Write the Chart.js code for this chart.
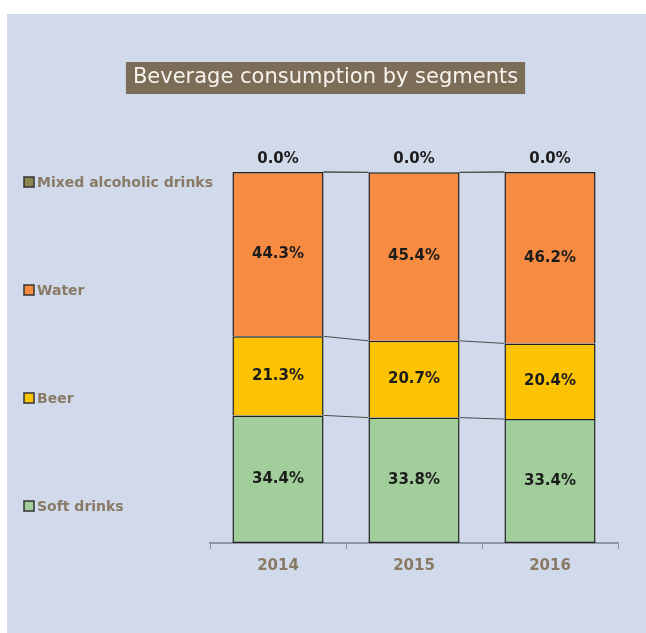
<!DOCTYPE html>
<html>
<head>
<meta charset="utf-8">
<script src="https://cdn.jsdelivr.net/npm/chart.js@4.4.1/dist/chart.umd.min.js"></script>
<style>
  html, body { margin:0; padding:0; background:#fff; }
  #panel { position:absolute; left:7px; top:14px; width:639px; height:619px; background:#d1daeb; }
  #chart { display:block; }
</style>
</head>
<body>
<div id="panel"><canvas id="chart" width="639" height="619"></canvas></div>
<script>
// beverage segments, share of consumption (%)
const years = ["2014", "2015", "2016"];
const softDrinks = [34.4, 33.8, 33.4];
const beer = [21.3, 20.7, 20.4];
const water = [44.3, 45.4, 46.2];
const mixedAlcoholic = [0.0, 0.0, 0.0];
const chartTitle = "Beverage consumption by segments";

const FONT = "'DejaVu Sans', Verdana, sans-serif";
const TEXT_BROWN = "#887a65";

// Excel-style series lines joining the segment tops between bars
const seriesLines = {
  id: "seriesLines",
  beforeDatasetsDraw(chart) {
    const ctx = chart.ctx;
    ctx.save();
    ctx.strokeStyle = "#4a4a4a";
    ctx.lineWidth = 1;
    chart.data.datasets.forEach((ds, i) => {
      const bars = chart.getDatasetMeta(i).data;
      for (let j = 0; j < bars.length - 1; j++) {
        const a = bars[j], b = bars[j + 1];
        ctx.beginPath();
        ctx.moveTo(a.x + a.width / 2, a.y);
        ctx.lineTo(b.x - b.width / 2, b.y);
        ctx.stroke();
      }
    });
    ctx.restore();
  }
};

const valueLabels = {
  id: "valueLabels",
  afterDatasetsDraw(chart) {
    const ctx = chart.ctx;
    ctx.save();
    ctx.font = "bold 15px " + FONT;
    ctx.fillStyle = "#1c1c1c";
    ctx.textAlign = "center";
    ctx.textBaseline = "middle";
    chart.data.datasets.forEach((ds, i) => {
      chart.getDatasetMeta(i).data.forEach((bar, j) => {
        const v = ds.data[j];
        const y = v === 0 ? bar.y - 13 : (bar.y + bar.base) / 2;
        ctx.fillText(v.toFixed(1) + "%", bar.x, y);
      });
    });
    ctx.restore();
  }
};

// title box + left legend spread down the plot
const decorations = {
  id: "decorations",
  afterDraw(chart) {
    const ctx = chart.ctx;
    ctx.save();
    ctx.font = "21px " + FONT;
    const w = ctx.measureText(chartTitle).width + 14;
    const cx = chart.width / 2 - 1;
    ctx.fillStyle = "#7c6d58";
    ctx.fillRect(cx - w / 2, 48, w, 32);
    ctx.fillStyle = "#f7f3ee";
    ctx.textAlign = "center";
    ctx.textBaseline = "middle";
    ctx.fillText(chartTitle, cx, 64);

    const items = chart.data.datasets.slice().reverse();
    ctx.font = "bold 14px " + FONT;
    ctx.textAlign = "left";
    items.forEach((ds, i) => {
      const y = 168 + i * 108;
      ctx.fillStyle = ds.backgroundColor;
      ctx.fillRect(17, y - 5, 10, 10);
      ctx.strokeStyle = "#333";
      ctx.lineWidth = 1.5;
      ctx.strokeRect(17, y - 5, 10, 10);
      ctx.fillStyle = TEXT_BROWN;
      ctx.fillText(ds.label, 30, y + 1);
    });
    ctx.restore();
  }
};

new Chart(document.getElementById("chart"), {
  type: "bar",
  data: {
    labels: years,
    datasets: [
      { label: "Soft drinks", data: softDrinks, backgroundColor: "#a2ce9c", borderSkipped: false },
      { label: "Beer", data: beer, backgroundColor: "#fbc302", borderSkipped: "start" },
      { label: "Water", data: water, backgroundColor: "#f78b41", borderSkipped: "start" },
      { label: "Mixed alcoholic drinks", data: mixedAlcoholic, backgroundColor: "#8b8450", borderSkipped: "start" }
    ].map(d => ({ ...d, borderColor: "#1e1e1e", borderWidth: 1.5,
                  barPercentage: 0.67, categoryPercentage: 1 }))
  },
  options: {
    responsive: false, animation: false,
    layout: { padding: { left: 203, right: 28, top: 158, bottom: 50 } },
    plugins: {
      legend: { display: false },
      tooltip: { enabled: false },
      title: { display: false }
    },
    scales: {
      x: { stacked: true, offset: true,
           grid: { display: true, drawOnChartArea: false, offset: true, tickLength: 6, color: "#8e97a6" },
           border: { display: true, color: "#8e97a6", width: 2 },
           ticks: { color: TEXT_BROWN, padding: 8, font: { family: FONT, size: 15, weight: "bold" } } },
      y: { stacked: true, display: false, min: 0, max: 100 }
    }
  },
  plugins: [decorations, seriesLines, valueLabels]
});
</script>
</body>
</html>
